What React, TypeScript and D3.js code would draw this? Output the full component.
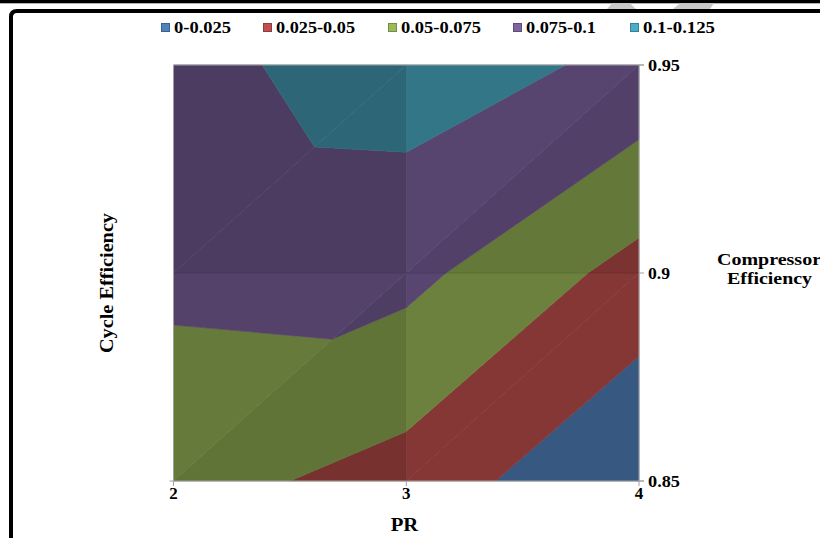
import React from "react";
import * as d3 from "d3";

// ---- data ----
const prValues = [2, 3, 4];
const compEff = [0.85, 0.9, 0.95];
// cycle efficiency at each PR, for compressor efficiency 0.85, 0.9, 0.95
const cyclePR2 = [0.06, 0.08, 0.092];
const cyclePR3 = [0.04, 0.082, 0.113];
const cyclePR4 = [0.001, 0.041, 0.094];
const bandEdges = [0, 0.025, 0.05, 0.075, 0.1, 0.125];
const bandLabels = ["0-0.025", "0.025-0.05", "0.05-0.075", "0.075-0.1", "0.1-0.125"];
const xTicks = [2, 3, 4];
const yTicks = [0.85, 0.9, 0.95];
const yTickLabels = ["0.85", "0.9", "0.95"];

// ---- styles ----
const palette = ["#4F81BD", "#C0504D", "#9BBB59", "#8064A2", "#4BACC6"];
// brightness per cell [row j][col i] for [lower-right tri, upper-left tri]
const shade = [
  [
    [0.62, 0.66],
    [0.685, 0.69],
  ],
  [
    [0.6, 0.6],
    [0.64, 0.685],
  ],
];
const legendX = [161, 263, 388, 513, 630];
const legendW = [57, 79, 80, 70, 72];
const FONT = "'Liberation Serif', 'Times New Roman', serif";

type P = [number, number, number];

function clip(poly: P[], level: number, above: boolean): P[] {
  const out: P[] = [];
  const ins = (p: P) => (above ? p[2] >= level : p[2] <= level);
  for (let k = 0; k < poly.length; k++) {
    const a = poly[k];
    const b = poly[(k + 1) % poly.length];
    const ia = ins(a);
    const ib = ins(b);
    if (ia) out.push(a);
    if (ia !== ib) {
      const t = (level - a[2]) / (b[2] - a[2]);
      out.push([a[0] + t * (b[0] - a[0]), a[1] + t * (b[1] - a[1]), level]);
    }
  }
  return out;
}

export default function App() {
  const grid = [cyclePR2, cyclePR3, cyclePR4];
  const x = d3.scaleLinear().domain([2, 4]).range([173.5, 639]);
  const y = d3.scaleLinear().domain([0.85, 0.95]).range([481, 65]);

  const polys: { d: string; fill: string }[] = [];
  for (let j = 0; j < compEff.length - 1; j++) {
    for (let i = 0; i < prValues.length - 1; i++) {
      const BL: P = [prValues[i], compEff[j], grid[i][j]];
      const BR: P = [prValues[i + 1], compEff[j], grid[i + 1][j]];
      const TR: P = [prValues[i + 1], compEff[j + 1], grid[i + 1][j + 1]];
      const TL: P = [prValues[i], compEff[j + 1], grid[i][j + 1]];
      const tris = [
        [BL, BR, TR],
        [BL, TR, TL],
      ];
      tris.forEach((tri, ti) => {
        const f = shade[j][i][ti];
        for (let b = 0; b < bandLabels.length; b++) {
          let poly = clip(tri as P[], bandEdges[b], true);
          if (poly.length < 3) continue;
          poly = clip(poly, bandEdges[b + 1], false);
          if (poly.length < 3) continue;
          const c = d3.rgb(palette[b]);
          const fill = d3.rgb(c.r * f, c.g * f, c.b * f).formatHex();
          const d =
            "M" + poly.map((p) => `${x(p[0]).toFixed(2)},${y(p[1]).toFixed(2)}`).join("L") + "Z";
          polys.push({ d, fill });
        }
      });
    }
  }

  const axisGrey = "#A0A0A0";

  return (
    <svg
      width={820}
      height={538}
      style={{ position: "absolute", left: 0, top: 0, background: "#fff" }}
      fontFamily={FONT}
      fontWeight="bold"
    >
      <rect x={0} y={0} width={820} height={538} fill="#fff" />
      {/* outer frame */}
      <rect x={0} y={0} width={820} height={3.3} fill="#000" />
      <path d="M11,540 L11,17 Q11,11 17,11 L822,11" fill="none" stroke="#000" strokeWidth={4} />
      <polygon points="612,3.3 630,3.3 636,9 607,9" fill="#C8C8C8" />
      <polygon points="680,3.3 714,3.3 710,9 673,9" fill="#C8C8C8" />

      {/* legend */}
      {bandLabels.map((lab, k) => (
        <g key={lab}>
          <rect
            x={legendX[k] + 0.5}
            y={23.5}
            width={8}
            height={8}
            fill={palette[k]}
            stroke={d3.rgb(palette[k]).darker(0.8).formatHex()}
            strokeWidth={1}
          />
          <text
            x={legendX[k] + 13}
            y={32.5}
            fontSize={16}
            textLength={legendW[k]}
            lengthAdjust="spacingAndGlyphs"
            fill="#000"
          >
            {lab}
          </text>
        </g>
      ))}

      {/* contour bands */}
      {polys.map((p, k) => (
        <path key={k} d={p.d} fill={p.fill} stroke={p.fill} strokeWidth={0.6} />
      ))}
      {/* faint cell lines */}
      <line x1={x(3)} x2={x(3)} y1={y(0.95)} y2={y(0.85)} stroke="#000" strokeOpacity={0.07} />
      <line x1={x(2)} x2={x(4)} y1={y(0.9)} y2={y(0.9)} stroke="#000" strokeOpacity={0.07} />

      {/* plot border / axes */}
      <line x1={x(2)} x2={x(4) + 5} y1={y(0.95)} y2={y(0.95)} stroke={axisGrey} strokeWidth={1} />
      <line x1={x(2)} x2={x(2)} y1={y(0.95)} y2={y(0.85)} stroke={axisGrey} strokeWidth={1} />
      <line x1={x(4)} x2={x(4)} y1={y(0.95)} y2={y(0.85)} stroke={axisGrey} strokeWidth={1} />
      <line x1={x(2) - 4} x2={x(4) + 5} y1={y(0.85)} y2={y(0.85)} stroke={axisGrey} strokeWidth={1} />
      {yTicks.map((t) => (
        <line key={"yt" + t} x1={x(4)} x2={x(4) + 5} y1={y(t)} y2={y(t)} stroke={axisGrey} />
      ))}
      {xTicks.map((t) => (
        <line key={"xt" + t} x1={x(t)} x2={x(t)} y1={y(0.85)} y2={y(0.85) + 5} stroke={axisGrey} />
      ))}

      {/* tick labels */}
      {xTicks.map((t) => (
        <text key={"xl" + t} x={x(t)} y={498.5} fontSize={17} textAnchor="middle" fill="#000">
          {t}
        </text>
      ))}
      {yTicks.map((t, k) => (
        <text
          key={"yl" + t}
          x={x(4) + 9}
          y={y(t) + 6}
          fontSize={17}
          textLength={yTickLabels[k].length === 3 ? 22 : 32}
          lengthAdjust="spacingAndGlyphs"
          fill="#000"
        >
          {yTickLabels[k]}
        </text>
      ))}

      {/* axis titles */}
      <text
        x={390.7}
        y={530.7}
        fontSize={18.5}
        textLength={27.6}
        lengthAdjust="spacingAndGlyphs"
        fill="#000"
      >
        PR
      </text>
      <text
        transform="translate(113,283) rotate(-90)"
        x={0}
        y={0}
        fontSize={18.5}
        textAnchor="middle"
        textLength={140}
        lengthAdjust="spacingAndGlyphs"
        fill="#000"
      >
        Cycle Efficiency
      </text>
      <text x={717} y={265} fontSize={16} textLength={104} lengthAdjust="spacingAndGlyphs" fill="#000">
        Compressor
      </text>
      <text x={727} y={283.5} fontSize={16} textLength={85} lengthAdjust="spacingAndGlyphs" fill="#000">
        Efficiency
      </text>
    </svg>
  );
}
